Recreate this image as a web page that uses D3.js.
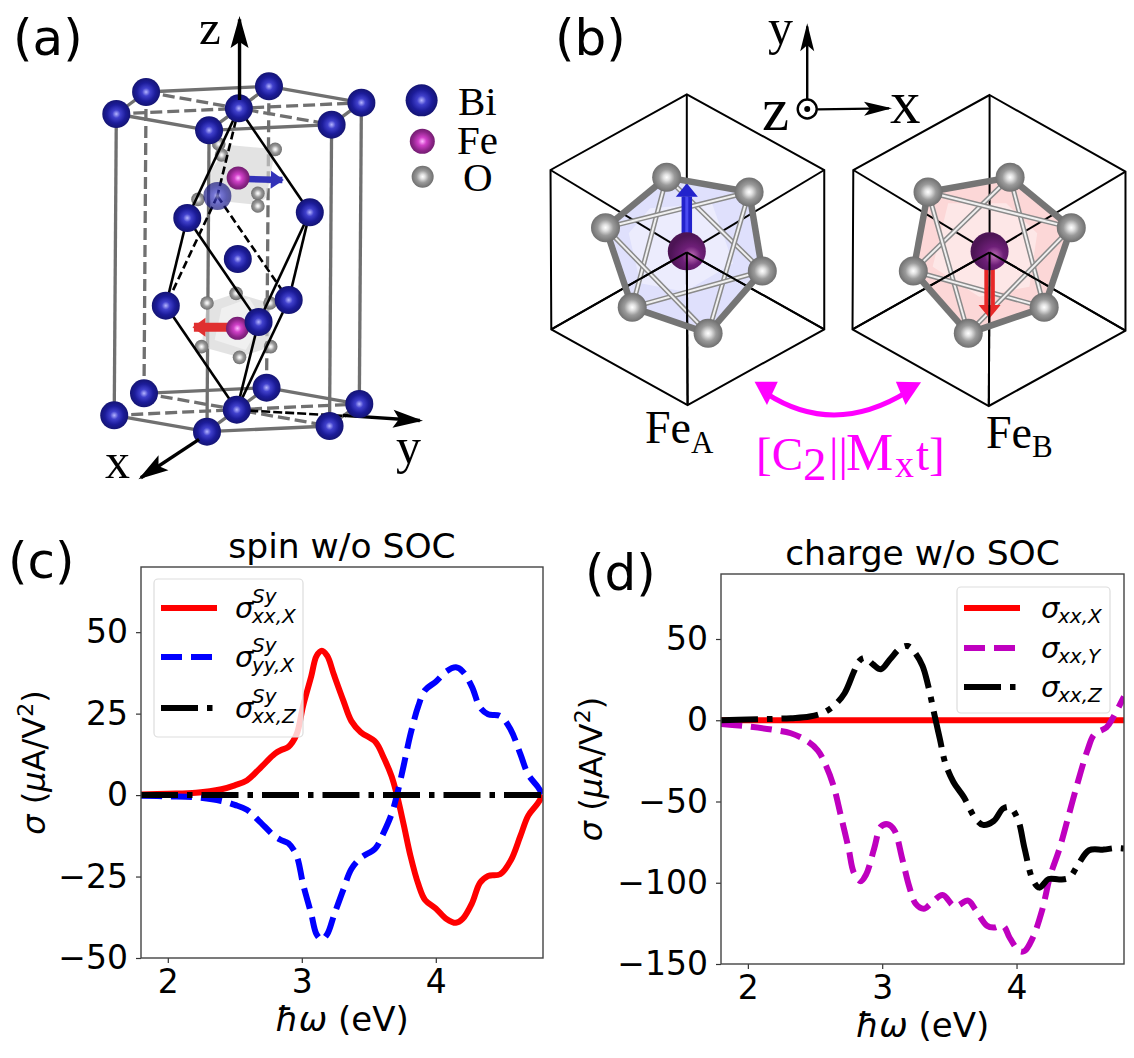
<!DOCTYPE html>
<html><head><meta charset="utf-8">
<script src="https://cdn.jsdelivr.net/npm/d3@7"></script>
<style>html,body{margin:0;padding:0;background:#fff}svg{display:block}text{font-family:"DejaVu Sans"}.serif{font-family:"Liberation Serif"}</style>
</head><body><svg id="c" width="1134" height="1058"></svg>
<script>
// ---------- chart (c) ----------
const cEnergy=[1.8,2.0,2.21,2.4,2.5,2.59,2.68,2.8,2.85,2.9,2.96,3.01,3.07,3.11,3.15,3.19,3.24,3.31,3.37,3.44,3.55,3.61,3.67,3.71,3.76,3.81,3.87,3.92,4.0,4.08,4.15,4.2,4.27,4.33,4.39,4.48,4.56,4.63,4.69,4.76,4.8];
const cXX=[0.2,0.4,0.7,1.8,3.0,4.5,7.9,12.7,13.9,14.8,18.5,27.4,36.4,42.7,44.3,42.7,36.9,29,22.7,19.3,16.3,11.6,5.8,0,-9,-18.5,-27.4,-32.2,-34.8,-38,-39.2,-38,-33.2,-26.9,-24.8,-24.3,-20,-12.7,-6.3,-2.6,0];
const cYY=[-0.2,-0.4,-0.7,-1.8,-3.0,-4.5,-7.9,-12.7,-13.9,-14.8,-18.5,-27.4,-36.4,-42.7,-44.3,-42.7,-36.9,-29,-22.7,-19.3,-16.3,-11.6,-5.8,0,9,18.5,27.4,32.2,34.8,38,39.2,38,33.2,26.9,24.8,24.3,20,12.7,6.3,2.6,0];
const cZ=[0,0];
const cZEnergy=[1.8,4.8];
const cTicksY=[-50,-25,0,25,50];
// ---------- chart (d) ----------
const dEnergyY=[1.8,2.0,2.19,2.32,2.43,2.52,2.58,2.64,2.69,2.75,2.79,2.84,2.88,2.94,2.99,3.04,3.09,3.15,3.2,3.25,3.31,3.36,3.45,3.54,3.64,3.69,3.78,3.83,3.9,3.95,4.02,4.06,4.12,4.19,4.25,4.32,4.39,4.46,4.53,4.58,4.67,4.72,4.8];
const dYValues=[-2.3,-3.8,-5.9,-8,-12.2,-18.5,-27.6,-41,-58,-79,-94,-99,-95,-79,-65.5,-64,-67.6,-85.5,-102,-113,-116,-113,-107.6,-114.5,-111,-116,-126.5,-127.6,-126.5,-134,-142,-142,-134,-117,-96,-79,-58,-37,-18,-8.6,-4.4,1.9,14.5];
const dEnergyZ=[1.8,2.0,2.32,2.46,2.57,2.65,2.72,2.79,2.83,2.87,2.93,2.99,3.06,3.13,3.19,3.24,3.3,3.34,3.39,3.43,3.47,3.53,3.61,3.69,3.75,3.83,3.9,3.95,4.01,4.06,4.12,4.17,4.24,4.32,4.39,4.46,4.54,4.65,4.73,4.8];
const dZValues=[0,0.4,1.3,2.3,5,9.7,16.6,30,36.6,38.3,34.5,31.4,37.7,44,45.7,42,33.5,22,3,-11.8,-26.5,-38,-47.6,-60,-64.4,-62,-54.3,-53.5,-61,-79,-98,-103,-97.7,-98,-97,-88.6,-80,-79.6,-78.7,-79];
const dX=[0,0];
const dXEnergy=[1.8,4.8];
const dTicksY=[-150,-100,-50,0,50];
const ticksX=[2,3,4];
// ---------- schematic (a), in schematic units ----------
const biTop=[[422,276],[777,259],[1044,308],[336,342],[690,325],[604,391],[958,374]];
const biMid=[[541,654],[895,637],[687,777],[479,917],[834,900],[747,966]];
const biBottom=[[416,1180],[770,1163],[1038,1212],[330,1246],[684,1229],[598,1295],[952,1278]];
const biGhost=[[628,588]];
const feA=[[688,534],[686,985]];
const oA=[[632,432],[795,448],[640,465],[745,580],[745,618],[572,598],[598,909],[682,880],[780,909],[582,1040],[692,1072],[782,1040]];
const frameSolid=[[[422,276],[777,259]],[[777,259],[1044,308]],[[1044,308],[958,374]],[[958,374],[604,391]],[[604,391],[336,342]],[[336,342],[422,276]],[[604,391],[777,259]],
 [[416,1180],[770,1163]],[[770,1163],[1038,1212]],[[1038,1212],[952,1278]],[[952,1278],[598,1295]],[[598,1295],[330,1246]],[[598,1295],[770,1163]],
 [[336,342],[330,1246]],[[1044,308],[1038,1212]],[[958,374],[952,1278]],[[604,391],[598,1295]]];
const frameDash=[[[336,342],[1044,308]],[[422,276],[958,374]],[[330,1246],[1038,1212]],[[416,1180],[952,1278]],[[422,276],[416,1180]],[[777,259],[770,1163]]];
const rhomboSolid=[[[690,325],[541,654]],[[690,325],[895,637]],[[541,654],[747,966]],[[541,654],[479,917]],[[895,637],[747,966]],[[895,637],[834,900]],[[479,917],[684,1229]],[[747,966],[684,1229]],[[834,900],[684,1229]]];
const rhomboDash=[[[690,325],[628,588]],[[628,588],[834,900]],[[628,588],[479,917]]];
const polyUp=[[660,435],[795,448],[770,590],[745,615],[610,600],[610,510]];
const polyLow=[[598,909],[682,880],[780,909],[782,1040],[692,1072],[582,1040]];
const polyLowInner=[[640,925],[720,895],[760,960],[710,1050],[620,1020]];
// ---------- schematic (b), in schematic units ----------
const hexA=[[405,283],[760,510],[760,988],[407,1215],[55,988],[53,510]];
const hexB=[[1187,285],[1538,515],[1538,992],[1185,1218],[833,988],[835,510]];
const centerA=[405,757], centerB=[1187,757];
const oHexA=[[353,532],[566,576],[600,813],[460,1000],[264,922],[195,683]];
const oHexB=[[1240,532],[1398,683],[1328,922],[1132,1000],[990,813],[1028,576]];
const innerA=[[0,4],[0,2],[1,5],[1,3],[2,4],[5,3]];
const innerB=[[0,4],[0,2],[5,1],[5,3],[4,2],[1,3]];
const coreA=[[310,625],[470,610],[525,790],[400,875],[285,850],[255,700]];
const coreB=[[1080,610],[1230,610],[1310,700],[1290,860],[1160,890],[1040,800]];

const svg=d3.select("#c");
const defs=svg.append("defs");
function grad(id,stops,cx){const g=defs.append("radialGradient").attr("id",id).attr("cx",cx||"50%").attr("cy",cx||"50%").attr("r","55%");
 stops.forEach(s=>g.append("stop").attr("offset",s[0]).attr("stop-color",s[1]));}
grad("bi",[[0,"#b4b4ff"],[.26,"#4040cc"],[.6,"#1c1c9a"],[1,"#121268"]]);
grad("fe",[[0,"#ffb8ff"],[.3,"#d040c8"],[.7,"#8c2488"],[1,"#6a1a68"]]);
grad("fe2",[[0,"#c070b8"],[.45,"#6e1f78"],[1,"#4d1455"]],"62%");
grad("o",[[0,"#ffffff"],[.2,"#e0e0e0"],[.5,"#9a9a9a"],[1,"#666666"]]);
defs.append("clipPath").attr("id","clipC").append("rect").attr("x",141).attr("y",567).attr("width",402).attr("height",391);
defs.append("clipPath").attr("id","clipD").append("rect").attr("x",721).attr("y",574).attr("width",403).attr("height",390);

// ---- panel (a) ----
const ax=d3.scaleLinear([0,1560],[0,540]), ay=d3.scaleLinear([0,1530],[0,510]);
const pa=svg.append("g");
const segA=(sel,data,col,w,dash)=>sel.selectAll(null).data(data).join("line").attr("x1",d=>ax(d[0][0])).attr("y1",d=>ay(d[0][1])).attr("x2",d=>ax(d[1][0])).attr("y2",d=>ay(d[1][1])).attr("stroke",col).attr("stroke-width",w).attr("stroke-dasharray",dash||null);
const ballsA=(sel,data,id,r,op)=>sel.selectAll(null).data(data).join("circle").attr("cx",d=>ax(d[0])).attr("cy",d=>ay(d[1])).attr("r",r).attr("fill",`url(#${id})`).attr("opacity",op||1);
function arrowHead(g,x1,y1,x2,y2,len,wid,col,notch){const a=Math.atan2(y2-y1,x2-x1),c=Math.cos(a),s=Math.sin(a),n=notch==null?len:notch;
 const p=[[x2,y2],[x2-len*c-wid*s,y2-len*s+wid*c],[x2-n*c,y2-n*s],[x2-len*c+wid*s,y2-len*s-wid*c]];
 g.append("polygon").attr("points",p.map(q=>q.join(",")).join(" ")).attr("fill",col);}
function arrowLine(g,p,q,w,col,len,wid,notch){g.append("line").attr("x1",p[0]).attr("y1",p[1]).attr("x2",q[0]-(q[0]-p[0])*.04).attr("y2",q[1]-(q[1]-p[1])*.04).attr("stroke",col).attr("stroke-width",w);arrowHead(g,p[0],p[1],q[0],q[1],len,wid,col,notch);}
const poly=(g,pts,sx,sy,fill,op)=>g.append("polygon").attr("points",pts.map(d=>sx(d[0])+","+sy(d[1])).join(" ")).attr("fill",fill).attr("opacity",op);
segA(pa.append("g"),frameSolid,"#707070",3.3);
segA(pa.append("g"),frameDash,"#707070",3.3,"12,5");
poly(pa,polyUp,ax,ay,"#d4d4d4",.65);poly(pa,polyLow,ax,ay,"#d4d4d4",.65);poly(pa,polyLowInner,ax,ay,"#f2f2f2",.8);
ballsA(pa.append("g"),oA,"o",6.8);
arrowLine(pa,[ax(715),ay(537)],[ax(820),ay(540)],6.5,"#3232b8",13,9,13);
arrowLine(pa,[ax(660),ay(982)],[ax(556),ay(982)],9,"#e03030",13,9.5,13);
ballsA(pa.append("g"),feA,"fe",11.5);
segA(pa.append("g"),rhomboSolid,"#000",2.6);
segA(pa.append("g"),rhomboDash,"#000",2.6,"8,4");
ballsA(pa.append("g"),biMid,"bi",14);
ballsA(pa.append("g"),biTop,"bi",14);
ballsA(pa.append("g"),biGhost,"bi",14,.68);
arrowLine(pa,[ax(692),ay(300)],[ax(692),ay(48)],3.4,"#000",32,9,26);
arrowLine(pa,[ax(990),ay(1246)],[ax(1222),ay(1262)],3.4,"#000",30,9,24);
segA(pa.append("g"),[[[720,1232],[1000,1248]]],"#000",2.6,"9,3");
ballsA(pa.append("g"),biBottom,"bi",14);
arrowLine(pa,[ax(575),ay(1318)],[ax(400),ay(1438)],3.4,"#000",30,9,24);
const label=(g,t,x,y,size,cls,col)=>g.append("text").attr("x",x).attr("y",y).attr("font-size",size).attr("class",cls||null).attr("fill",col||"#000").text(t);
label(pa,"(a)",13,55,50);
label(pa,"z",199,44,49,"serif");
label(pa,"y",396,463,50,"serif");
label(pa,"x",105,478,50,"serif");
ballsA(pa,[[1218,301]],"bi",16);ballsA(pa,[[1220,424]],"fe",12.5);ballsA(pa,[[1221,530]],"o",11);
label(pa,"Bi",458,115,41,"serif");label(pa,"Fe",457,154,41,"serif");label(pa,"O",463,191,41,"serif");

// ---- panel (b) ----
const bx=d3.scaleLinear([0,1560],[530,1134]), by=d3.scaleLinear([0,1500],[0,500]);
const pb=svg.append("g");
const ln=(g,a,b,col,w)=>g.append("line").attr("x1",bx(a[0])).attr("y1",by(a[1])).attr("x2",bx(b[0])).attr("y2",by(b[1])).attr("stroke",col).attr("stroke-width",w);
function molecule(hex,center,ox,inner,core,fill,arrowCol,arrowLight,arrowTo,feY){
 const g=pb.append("g");
 poly(g,ox,bx,by,fill,.85);
 poly(g,core,bx,by,"#ffffff",.4);
 g.append("polygon").attr("points",hex.map(d=>bx(d[0])+","+by(d[1])).join(" ")).attr("fill","none").attr("stroke","#000").attr("stroke-width",2);
 hex.forEach(h=>ln(g,h,center,"#000",2));
 inner.forEach(p=>{ln(g,ox[p[0]],ox[p[1]],"#8a8a8a",5);ln(g,ox[p[0]],ox[p[1]],"#f0f0f0",2);});
 g.append("line").attr("x1",bx(center[0])).attr("y1",by(feY)).attr("x2",bx(center[0])).attr("y2",by(arrowTo)).attr("stroke",arrowCol).attr("stroke-width",10.5);
 g.append("line").attr("x1",bx(center[0])).attr("y1",by(feY)).attr("x2",bx(center[0])).attr("y2",by(arrowTo)).attr("stroke",arrowLight).attr("stroke-width",3);
 const dir=arrowTo<feY?-1:1;
 const tipY=arrowTo+dir*40;
 g.append("polygon").attr("points",[[bx(center[0]),by(tipY)],[bx(center[0])-11,by(arrowTo)],[bx(center[0])+11,by(arrowTo)]].map(q=>q.join(",")).join(" ")).attr("fill",arrowCol);
 g.append("circle").attr("cx",bx(center[0])).attr("cy",by(feY)).attr("r",19).attr("fill","url(#fe2)");
 [hex[2],hex[3],hex[4]].forEach(h=>ln(g,center,h,"#000",2));
 d3.range(ox.length).forEach(i=>ln(g,ox[i],ox[(i+1)%ox.length],"#757575",6.5));
 g.selectAll(null).data(ox).join("circle").attr("cx",d=>bx(d[0])).attr("cy",d=>by(d[1])).attr("r",14.5).attr("fill","url(#o)");
}
molecule(hexA,centerA,oHexA,innerA,coreA,"#d9dbfb","#2222cc","#4a4af0",590,754);
molecule(hexB,centerB,oHexB,innerB,coreB,"#fbd0d0","#e82828","#ff9090",915,754);
label(pb,"(b)",555,55,50);
// coordinate triad
arrowLine(pb,[bx(716),by(300)],[bx(716),by(70)],2.4,"#000",28,7,22);
arrowLine(pb,[bx(742),by(328)],[bx(935),by(325)],2.4,"#000",28,7,22);
pb.append("circle").attr("cx",bx(716)).attr("cy",by(327)).attr("r",9.5).attr("fill","#fff").attr("stroke","#000").attr("stroke-width",2.4);
pb.append("circle").attr("cx",bx(716)).attr("cy",by(327)).attr("r",3).attr("fill","#000");
label(pb,"y",768,44,50,"serif");label(pb,"z",762,130,61,"serif");label(pb,"x",890,123,61,"serif");
// magenta arrow
pb.append("path").attr("d",`M${bx(610)},${by(1180)} Q${bx(785)},${by(1312)} ${bx(975)},${by(1175)}`).attr("fill","none").attr("stroke","#ff00ff").attr("stroke-width",5);
poly(pb,[[580,1145],[640,1145],[612,1215]],bx,by,"#ff00ff",1);
poly(pb,[[1010,1147],[945,1145],[970,1215]],bx,by,"#ff00ff",1);
const fe=(x,y,sub,dy)=>{const t=pb.append("text").attr("class","serif").attr("x",x).attr("y",y).attr("font-size",46).text("Fe");t.append("tspan").attr("font-size",31).attr("dy",dy).text(sub);};
fe(645,443,"A",10);fe(986,448,"B",9);
const mt=pb.append("text").attr("class","serif").attr("y",470).attr("font-size",47).attr("fill","#ff00ff");
[["[C",756,470,47],["2",803,480,47],["||",829,470,47],["M",846,470,53],["x",895,477,38],["t]",916,470,47]].forEach(p=>mt.append("tspan").attr("x",p[1]).attr("y",p[2]).attr("font-size",p[3]).text(p[0]));

// ---- charts ----
function chart(o){
 const x=d3.scaleLinear([1.8,4.8],[o.l,o.r]), y=d3.scaleLinear(o.dom,[o.b,o.t]);
 const g=svg.append("g");
 const line=d3.line().x(d=>x(d[0])).y(d=>y(d[1])).curve(d3.curveCatmullRom.alpha(0.5));
 const clip=g.append("g").attr("clip-path",`url(#${o.clip})`);
 o.series.forEach(s=>clip.append("path").attr("d",line(d3.zip(s.x,s.y))).attr("fill","none").attr("stroke",s.col).attr("stroke-width",6).attr("stroke-dasharray",s.dash||null));
 const fmt=d=>String(d).replace("-","\u2212");
 const axB=g.append("g").attr("transform",`translate(0,${o.b})`).call(d3.axisBottom(x).tickValues(ticksX).tickFormat(fmt).tickSize(5).tickSizeOuter(0).tickPadding(7));
 const axL=g.append("g").attr("transform",`translate(${o.l},0)`).call(d3.axisLeft(y).tickValues(o.ticks).tickFormat(fmt).tickSize(5).tickSizeOuter(0).tickPadding(8));
 [axB,axL].forEach(a=>{a.selectAll("text").attr("font-size",33).attr("font-family","DejaVu Sans").attr("fill","#000");a.selectAll("line").attr("stroke","#333").attr("stroke-width",1.2);a.select(".domain").remove();});
 g.append("rect").attr("x",o.l).attr("y",o.t).attr("width",o.r-o.l).attr("height",o.b-o.t).attr("fill","none").attr("stroke","#444").attr("stroke-width",1.4);
 // legend
 const L=o.legend;
 g.append("rect").attr("x",L.x).attr("y",L.y).attr("width",L.w).attr("height",L.h).attr("rx",4).attr("fill","#fff").attr("fill-opacity",.8).attr("stroke","#ddd").attr("stroke-width",1.2);
 o.series.forEach((s,i)=>{
  g.append("line").attr("x1",L.lx).attr("x2",L.lx+56).attr("y1",L.ys[i]).attr("y2",L.ys[i]).attr("stroke",s.col).attr("stroke-width",6).attr("stroke-dasharray",s.dash||null);
  g.append("text").attr("x",L.tx).attr("y",L.ys[i]+10).attr("font-size",29).attr("font-style","italic").text("\u03c3");
  if(s.sup) g.append("text").attr("x",L.tx+17).attr("y",L.ys[i]-5).attr("font-size",20).attr("font-style","italic").text(s.sup);
  g.append("text").attr("x",L.tx+17).attr("y",L.ys[i]+15).attr("font-size",20).attr("font-style","italic").text(s.sub);
 });
 g.append("text").attr("x",(o.l+o.r)/2).attr("y",o.t-9).attr("text-anchor","middle").attr("font-size",34.5).text(o.title);
 const xl=g.append("text").attr("x",(o.l+o.r)/2).attr("y",o.b+73).attr("text-anchor","middle").attr("font-size",34);
 xl.append("tspan").attr("font-style","italic").text("\u0127\u03c9");xl.append("tspan").text(" (eV)");
 const yl=g.append("text").attr("transform",`translate(${o.ylx},${(o.t+o.b)/2}) rotate(-90)`).attr("text-anchor","middle").attr("font-size",32);
 yl.append("tspan").attr("font-style","italic").text("\u03c3");yl.append("tspan").text(" (");yl.append("tspan").attr("font-style","italic").text("\u03bc");yl.append("tspan").text("A/V");
 yl.append("tspan").attr("font-size",22).attr("dy",-12).text("2");yl.append("tspan").attr("dy",12).text(")");
}
const DASH="21,9", DD="37,9,5.5,9";
chart({l:141,r:543,t:567,b:958,dom:[-50,70],ticks:cTicksY,clip:"clipC",title:"spin w/o SOC",ylx:45,
 series:[{x:cEnergy,y:cXX,col:"#ff0000",sup:"Sy",sub:"xx,X"},{x:cEnergy,y:cYY,col:"#0000ff",dash:DASH,sup:"Sy",sub:"yy,X"},{x:cZEnergy,y:cZ,col:"#000",dash:DD,sup:"Sy",sub:"xx,Z"}],
 legend:{x:154,y:579,w:149,h:158,lx:161,tx:235,ys:[608,657,708]}});
chart({l:721,r:1124,t:574,b:964,dom:[-150,90],ticks:dTicksY,clip:"clipD",title:"charge w/o SOC",ylx:602,
 series:[{x:dXEnergy,y:dX,col:"#ff0000",sub:"xx,X"},{x:dEnergyY,y:dYValues,col:"#bf00bf",dash:DASH,sub:"xx,Y"},{x:dEnergyZ,y:dZValues,col:"#000",dash:DD,sub:"xx,Z"}],
 legend:{x:957,y:587,w:153,h:126,lx:964,tx:1041,ys:[608,648,687]}});
label(svg,"(c)",8,578,50);
label(svg,"(d)",585,590,50);
</script></body></html>
